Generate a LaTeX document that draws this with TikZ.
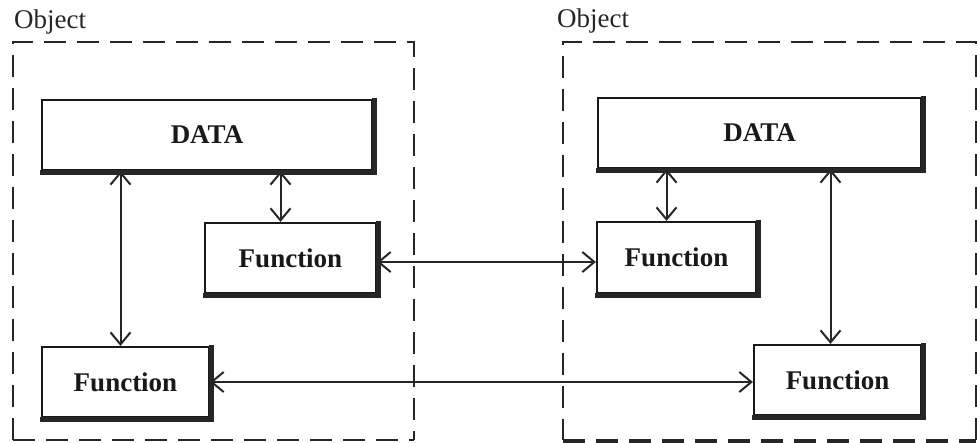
\documentclass[tikz,border=0pt]{standalone}
\usepackage{fontspec}
\setmainfont{Liberation Serif}
\usetikzlibrary{arrows.meta}
\begin{document}
\begin{tikzpicture}[x=1pt,y=-1pt,
  objframe/.style={dashed, dash pattern=on 22pt off 11pt, line width=2pt, draw=black!85},
  objlabel/.style={anchor=base west, inner sep=0pt, font=\fontsize{27}{30}\selectfont, text=black!85},
  unitbox/.style={draw=black!90, line width=2.2pt, fill=white, inner sep=0pt,
    font=\fontsize{27}{30}\selectfont\bfseries, text=black!90},
  shadowedge/.style={line width=5pt, draw=black!85, line cap=rect},
  link/.style={line width=2pt, draw=black!85, {Straight Barb[length=12pt,width=20pt,line width=2pt]}-{Straight Barb[length=12pt,width=20pt,line width=2pt]}}
]
\useasboundingbox (0,0) rectangle (977,442);

% object frames and their labels
\draw[objframe] (13,440) -- (13,42) -- (414,42) -- (414,440);
\draw[objframe] (13,440) -- (414,440);
\node[objlabel] (lblA) at (14,28) {Object};
\draw[objframe] (976,440) -- (976,42) -- (563,42) -- (563,440);
\draw[objframe, line width=3.5pt] (563,441) -- (976,441);
\node[objlabel] (lblB) at (557,27) {Object};

% left object
\node[unitbox, minimum width=330pt, minimum height=70pt] (dA) at (207,135) {DATA};
\node[unitbox, minimum width=171pt, minimum height=70pt] (fA) at (290.5,258) {Function};
\node[unitbox, minimum width=167pt, minimum height=70pt] (gA) at (125.5,382) {Function};

% right object
\node[unitbox, minimum width=323pt, minimum height=70pt] (dB) at (759.5,133) {DATA};
\node[unitbox, minimum width=159pt, minimum height=71pt] (fB) at (676.5,257.5) {Function};
\node[unitbox, minimum width=167pt, minimum height=70pt] (gB) at (837.5,380) {Function};

% heavy bottom and right edges of every box
\foreach \n in {dA,fA,gA,dB,fB,gB}
  \draw[shadowedge] ([shift={(1pt,-1.4pt)}]\n.north east) -- ([shift={(1pt,-1pt)}]\n.south east) -- ([shift={(1.4pt,-1pt)}]\n.south west);

% attachment points of the vertical links
\coordinate (pgA) at ([xshift=-5pt]gA.north);
\coordinate (pfA) at ([xshift=-10pt]fA.north);
\coordinate (pfB) at ([xshift=-10pt]fB.north);
\coordinate (pgB) at ([xshift=-7pt]gB.north);
\coordinate (pfAe) at ([yshift=-4pt]fA.east);

% connections inside the left object
\draw[link] (dA.south -| pgA) -- (pgA);
\draw[link] (dA.south -| pfA) -- (pfA);

% connections inside the right object
\draw[link] (dB.south -| pfB) -- (pfB);
\draw[link] (dB.south -| pgB) -- (pgB);

% messages between the two objects
\draw[link] (pfAe) -- (pfAe -| fB.west);
\draw[link] (gA.east) -- (gA.east -| gB.west);
\end{tikzpicture}
\end{document}
